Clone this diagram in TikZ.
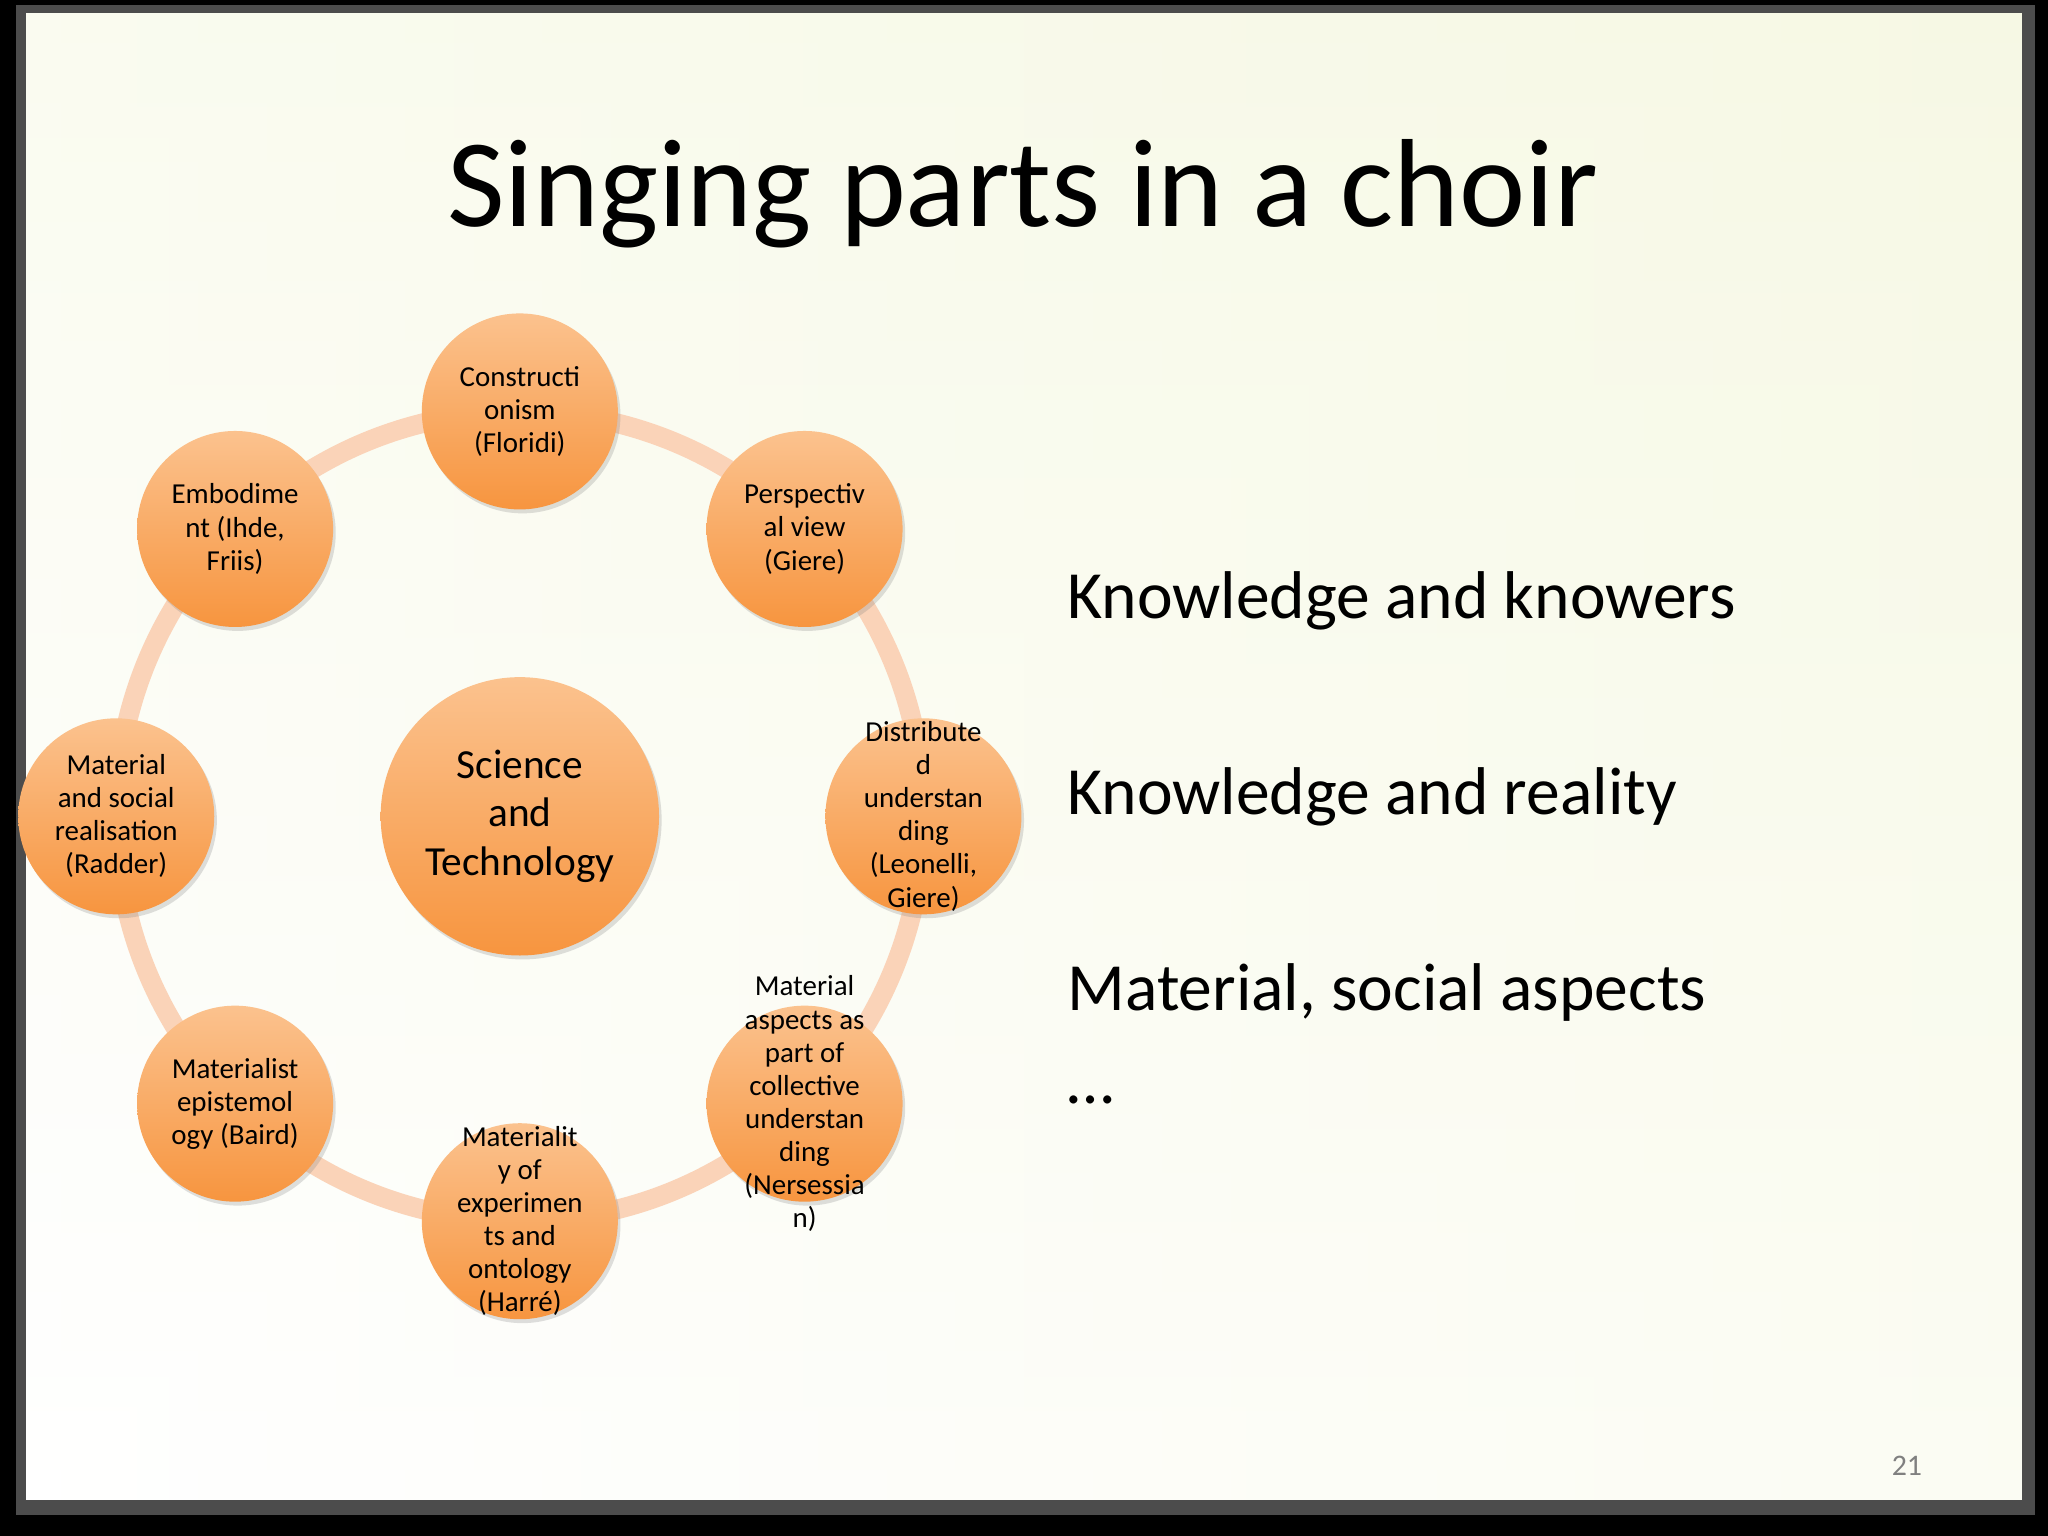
\documentclass[tikz,border=0pt]{standalone}
\usepackage{fontspec}
\setmainfont{Carlito}
\usetikzlibrary{shadows}
\definecolor{ring}{HTML}{FAD3B8}
\definecolor{otop}{HTML}{FBC28E}
\definecolor{obot}{HTML}{F7953F}
\tikzset{
  ball/.style={circle,minimum size=1.5cm,inner sep=0pt,top color=otop,bottom color=obot,
     drop shadow={opacity=0.25,shadow xshift=0.02cm,shadow yshift=-0.03cm}},
  lbl/.style={font=\fontsize{6.3pt}{7.2pt}\selectfont,align=center,text=black,inner sep=0pt},
  side/.style={anchor=west,font=\fontsize{14.7pt}{17pt}\selectfont}
}
\begin{document}
\begin{tikzpicture}[x=0.01cm,y=-0.01cm]
\useasboundingbox (0,0) rectangle (1568,1176);
\fill[black] (0,0) rectangle (1568,1176);
\fill[gray!60!black] (12,4) rectangle (1558,1160);
\shade[left color=white,right color={rgb,255:red,246;green,248;blue,226}] (20,10) rectangle (1548,1148);
\shade[top color={rgb,255:red,247;green,249;blue,230},bottom color=white,opacity=0.6] (20,10) rectangle (1548,1148);
\node (title) at (783,148) {\fontsize{27.3pt}{32pt}\selectfont Singing parts in a choir};
\draw[ring,line width=0.15cm] (398,625) circle[x radius=309,y radius=310];
\node[ball,minimum size=2.13cm] (c) at (398,625) {};
\node[lbl,font=\fontsize{9pt}{10.5pt}\selectfont] (ct) at (c) {Science\\and\\Technology};
\node[ball] (n1) at (398,315) {};
\node[lbl] (t1) at (n1) {Constructi\\onism\\(Floridi)};
\node[ball] (n2) at (616,405) {};
\node[lbl] (t2) at (n2) {Perspectiv\\al view\\(Giere)};
\node[ball] (n3) at (707,625) {};
\node[lbl] (t3) at (n3) {Distribute\\d\\understan\\ding\\(Leonelli,\\Giere)};
\node[ball] (n4) at (616,845) {};
\node[lbl] (t4) at (n4) {Material\\aspects as\\part of\\collective\\understan\\ding\\(Nersessia\\n)};
\node[ball] (n5) at (398,935) {};
\node[lbl] (t5) at (n5) {Materialit\\y of\\experimen\\ts and\\ontology\\(Harré)};
\node[ball] (n6) at (180,845) {};
\node[lbl] (t6) at (n6) {Materialist\\epistemol\\ogy (Baird)};
\node[ball] (n7) at (89,625) {};
\node[lbl] (t7) at (n7) {Material\\and social\\realisation\\(Radder)};
\node[ball] (n8) at (180,405) {};
\node[lbl] (t8) at (n8) {Embodime\\nt (Ihde,\\Friis)};
\node[side] (k1) at (805,460) {Knowledge and knowers};
\node[side] (k2) at (805,610) {Knowledge and reality};
\node[side] (k3) at (805,760) {Material, social aspects};
\node[side] (k4) at (805,842) {…};
\node[text=gray,font=\fontsize{6.5pt}{8pt}\selectfont] (pg) at (1460,1122) {21};
\end{tikzpicture}
\end{document}
